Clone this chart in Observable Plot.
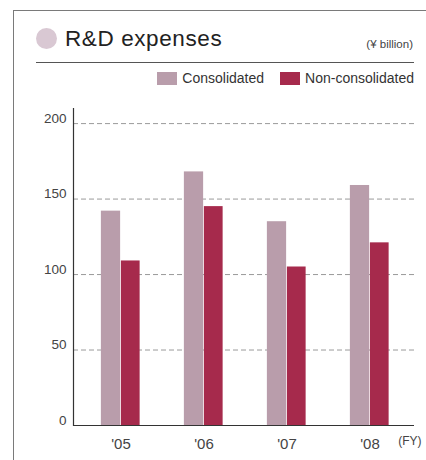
<!DOCTYPE html>
<html><head><meta charset="utf-8">
<script src="https://cdn.jsdelivr.net/npm/d3@7"></script>
<script src="https://cdn.jsdelivr.net/npm/@observablehq/plot@0.6"></script>
<style>
body{margin:0;background:#fff;font-family:"Liberation Sans",Arial,sans-serif;}
#wrap{position:relative;width:426px;height:460px;overflow:hidden;background:#fff;}
#frame{position:absolute;left:13px;top:10px;width:430px;height:470px;border-left:1px solid #7a7a7a;border-top:1px solid #7a7a7a;}
#dot{position:absolute;left:36px;top:28px;width:21px;height:21px;border-radius:50%;background:#d9c8d3;}
#title{position:absolute;left:65px;top:28px;font-size:22.5px;line-height:22px;color:#222;letter-spacing:0.6px;white-space:nowrap;margin:0;font-weight:normal;}
#unit{position:absolute;right:13px;top:38px;font-size:11.5px;line-height:12px;color:#444;white-space:nowrap;}
#rule{position:absolute;left:36px;top:62px;width:378px;height:1px;background:#555;}
#legend{position:absolute;right:12px;top:71px;display:flex;align-items:center;font-size:14px;line-height:15px;color:#333;white-space:nowrap;}
#legend .sw{width:20px;height:13px;margin-right:5px;}
#legend .item{display:flex;align-items:center;}
#legend .item + .item{margin-left:16px;}
#chart{position:absolute;left:0;top:100px;}
</style>
</head><body>
<div id="wrap">
  <div id="frame"></div>
  <div id="dot"></div>
  <h1 id="title">R&amp;D expenses</h1>
  <div id="unit">(¥ billion)</div>
  <div id="rule"></div>
  <div id="legend"></div>
  <div id="chart"></div>
</div>
<script>
const years = ["'05", "'06", "'07", "'08"];
const consolidated = [142, 168, 135, 159];
const nonConsolidated = [109, 145, 105, 121];
const seriesNames = ["Consolidated", "Non-consolidated"];
const seriesColors = ["#b99dab", "#a62a4c"];
const yTicks = [0, 50, 100, 150, 200];
const xUnit = "(FY)";

// legend
const legend = document.getElementById("legend");
seriesNames.forEach((name, i) => {
  const item = document.createElement("div");
  item.className = "item";
  const sw = document.createElement("div");
  sw.className = "sw";
  sw.style.background = seriesColors[i];
  const label = document.createElement("span");
  label.textContent = name;
  item.appendChild(sw);
  item.appendChild(label);
  legend.appendChild(item);
});

const consData = years.map((year, i) => ({year, series: seriesNames[0], value: consolidated[i]}));
const nonData = years.map((year, i) => ({year, series: seriesNames[1], value: nonConsolidated[i]}));

const W = 426, H = 360, mL = 73, mR = 12, inL = 4, inR = 2;
const band = (W - mL - mR - inL - inR) / years.length;
const barW = 20;
const half = band / 2;

const chart = Plot.plot({
  width: W,
  height: H,
  marginLeft: mL,
  marginRight: mR,
  marginTop: 8,
  marginBottom: 35,
  style: {fontFamily: "'Liberation Sans', Arial, sans-serif", color: "#444", background: "transparent", overflow: "visible"},
  x: {type: "band", domain: years, padding: 0, insetLeft: inL, insetRight: inR},
  y: {domain: [0, 210]},
  color: {domain: seriesNames, range: seriesColors},
  marks: [
    Plot.ruleY(yTicks.filter(d => d > 0), {stroke: "#9a9a9a", strokeWidth: 1, strokeDasharray: "5,3"}),
    Plot.barY(consData, {x: "year", y: "value", fill: "series", insetLeft: half - barW, insetRight: half}),
    Plot.barY(nonData, {x: "year", y: "value", fill: "series", insetLeft: half, insetRight: half - barW + 0.5}),
    Plot.axisY({ticks: yTicks, tickSize: 0, tickPadding: 7, dy: -5, fontSize: 13.5, label: null}),
    Plot.axisX({tickSize: 0, tickPadding: 13, fontSize: 15, label: null}),
    Plot.frame({anchor: "left", stroke: "#333", strokeWidth: 1.2}),
    Plot.ruleY([0], {stroke: "#333", strokeWidth: 1.2}),
    Plot.text([xUnit], {frameAnchor: "bottom-right", dx: 7, dy: 19, textAnchor: "end", fontSize: 12, fill: "#444"})
  ]
});
document.getElementById("chart").appendChild(chart);
</script>
</body></html>
